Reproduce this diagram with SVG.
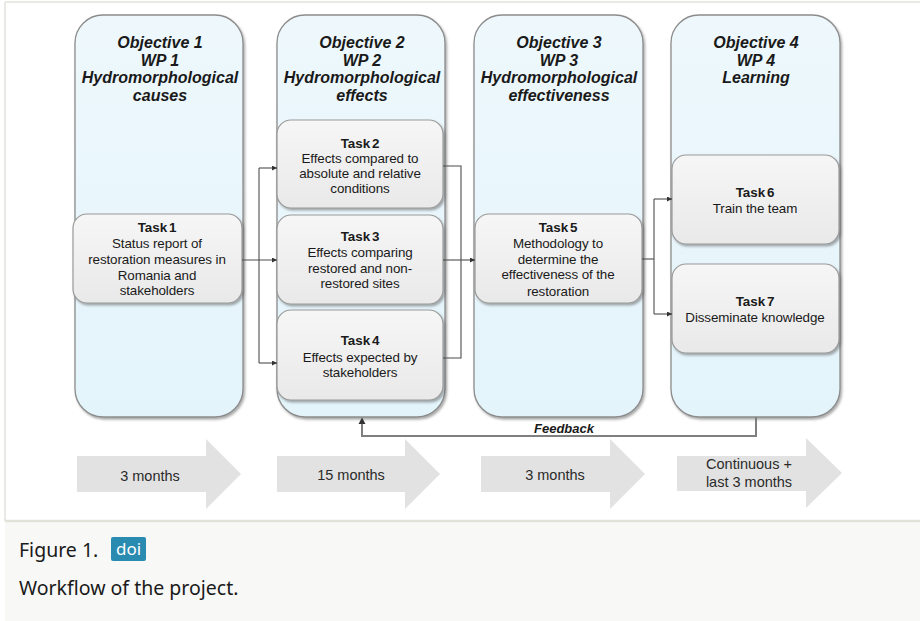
<svg xmlns="http://www.w3.org/2000/svg" width="920" height="621" viewBox="0 0 920 621">
  <style>
    .hdr { font-family: "Liberation Sans", Arial, sans-serif; font-size: 16px; font-weight: bold; font-style: italic; fill: #1a1a1a; text-anchor: middle; }
    .tt { font-family: "Liberation Sans", Arial, sans-serif; font-size: 13.4px; font-weight: bold; fill: #1a1a1a; text-anchor: middle; word-spacing: -2px; }
    .tb { font-family: "Liberation Sans", Arial, sans-serif; font-size: 13.4px; fill: #1a1a1a; text-anchor: middle; letter-spacing: -0.1px; }
    .col { fill: url(#colFill); stroke: #8c8c8c; stroke-width: 1.3; filter: url(#shadow); }
    .task { fill: url(#taskFill); stroke: #9a9a9a; stroke-width: 1.2; filter: url(#shadow); }
    .conn { fill: none; stroke: #4d4d4d; stroke-width: 1.1; }
    .fb { fill: none; stroke: #7f7f7f; stroke-width: 2; }
    .dur { fill: #e2e2e2; }
    .durt { font-family: "Liberation Sans", Arial, sans-serif; font-size: 14.5px; fill: #2a2a2a; text-anchor: middle; }
    .cap { font-family: "Noto Sans", "Open Sans", sans-serif; font-size: 19.5px; fill: #1a1a1a; }
  </style>
  <defs>
    <linearGradient id="colFill" x1="0" y1="0" x2="0" y2="1">
      <stop offset="0" stop-color="#eef8fc"/>
      <stop offset="1" stop-color="#e3f4fb"/>
    </linearGradient>
    <linearGradient id="taskFill" x1="0" y1="0" x2="0" y2="1">
      <stop offset="0" stop-color="#f6f6f6"/>
      <stop offset="1" stop-color="#e9e9e9"/>
    </linearGradient>
    <filter id="shadow" x="-10%" y="-10%" width="125%" height="125%">
      <feDropShadow dx="1.5" dy="2" stdDeviation="1.3" flood-color="#444" flood-opacity="0.45"/>
    </filter>
    <marker id="arr" viewBox="0 0 10 10" refX="10" refY="5" markerWidth="5" markerHeight="5" markerUnits="userSpaceOnUse" orient="auto">
      <path d="M0,0 L10,5 L0,10 z" fill="#333"/>
    </marker>
  </defs>

  <!-- page frame and caption panel -->
  <rect x="0" y="0" width="920" height="621" fill="#ffffff"/>
  <line x1="5" y1="2" x2="920" y2="2" stroke="#e2e2dc" stroke-width="1.5"/>
  <line x1="5" y1="2" x2="5" y2="521" stroke="#e2e2dc" stroke-width="1.5"/>
  <rect x="5" y="521" width="915" height="100" fill="#f8f8f6"/>
  <line x1="5" y1="521" x2="920" y2="521" stroke="#e2e2da" stroke-width="2.5"/>

  <!-- objective columns -->
  <g id="obj1">
    <rect class="col" x="75" y="15" width="168" height="402" rx="28" ry="28"/>
    <text class="hdr" x="160" y="48">Objective 1</text>
    <text class="hdr" x="160" y="65.5">WP 1</text>
    <text class="hdr" x="160" y="83">Hydromorphological</text>
    <text class="hdr" x="160" y="100.5">causes</text>
  </g>
  <g id="obj2">
    <rect class="col" x="277" y="15" width="168" height="402" rx="28" ry="28"/>
    <text class="hdr" x="362" y="48">Objective 2</text>
    <text class="hdr" x="362" y="65.5">WP 2</text>
    <text class="hdr" x="362" y="83">Hydromorphological</text>
    <text class="hdr" x="362" y="100.5">effects</text>
  </g>
  <g id="obj3">
    <rect class="col" x="474" y="15" width="169" height="402" rx="28" ry="28"/>
    <text class="hdr" x="559" y="48">Objective 3</text>
    <text class="hdr" x="559" y="65.5">WP 3</text>
    <text class="hdr" x="559" y="83">Hydromorphological</text>
    <text class="hdr" x="559" y="100.5">effectiveness</text>
  </g>
  <g id="obj4">
    <rect class="col" x="671" y="15" width="169" height="402" rx="28" ry="28"/>
    <text class="hdr" x="756" y="48">Objective 4</text>
    <text class="hdr" x="756" y="65.5">WP 4</text>
    <text class="hdr" x="756" y="83">Learning</text>
  </g>

  <!-- tasks -->
  <g id="task1">
    <rect class="task" x="73" y="214" width="169" height="89" rx="14" ry="14"/>
    <text class="tt" x="157" y="232">Task 1</text>
    <text class="tb" x="157" y="248">Status report of</text>
    <text class="tb" x="157" y="264">restoration measures in</text>
    <text class="tb" x="157" y="280">Romania and</text>
    <text class="tb" x="157" y="295">stakeholders</text>
  </g>
  <g id="task2">
    <rect class="task" x="277" y="120" width="166" height="88" rx="14" ry="14"/>
    <text class="tt" x="360" y="148">Task 2</text>
    <text class="tb" x="360" y="163">Effects compared to</text>
    <text class="tb" x="360" y="178">absolute and  relative</text>
    <text class="tb" x="360" y="193">conditions</text>
  </g>
  <g id="task3">
    <rect class="task" x="277" y="215" width="166" height="89" rx="14" ry="14"/>
    <text class="tt" x="360" y="241">Task 3</text>
    <text class="tb" x="360" y="257">Effects comparing</text>
    <text class="tb" x="360" y="273">restored and non-</text>
    <text class="tb" x="360" y="288">restored sites</text>
  </g>
  <g id="task4">
    <rect class="task" x="277" y="310" width="166" height="90" rx="14" ry="14"/>
    <text class="tt" x="360" y="345">Task 4</text>
    <text class="tb" x="360" y="362">Effects expected by</text>
    <text class="tb" x="360" y="377">stakeholders</text>
  </g>
  <g id="task5">
    <rect class="task" x="475" y="214" width="167" height="89" rx="14" ry="14"/>
    <text class="tt" x="558" y="232">Task 5</text>
    <text class="tb" x="558" y="248">Methodology to</text>
    <text class="tb" x="558" y="264">determine the</text>
    <text class="tb" x="558" y="279">effectiveness of the</text>
    <text class="tb" x="558" y="296">restoration</text>
  </g>
  <g id="task6">
    <rect class="task" x="672" y="155" width="167" height="89" rx="14" ry="14"/>
    <text class="tt" x="755" y="197">Task 6</text>
    <text class="tb" x="755" y="213">Train the team</text>
  </g>
  <g id="task7">
    <rect class="task" x="672" y="264" width="167" height="89" rx="14" ry="14"/>
    <text class="tt" x="755" y="306">Task 7</text>
    <text class="tb" x="755" y="322">Disseminate knowledge</text>
  </g>

  <!-- connectors -->
  <g id="connectors">
    <path class="conn" d="M242,260 H277" marker-end="url(#arr)"/>
    <path class="conn" d="M259,168 V363"/>
    <path class="conn" d="M259,168 H277" marker-end="url(#arr)"/>
    <path class="conn" d="M259,363 H277" marker-end="url(#arr)"/>
    <path class="conn" d="M443,166 H461 V358 H443"/>
    <path class="conn" d="M443,260 H475" marker-end="url(#arr)"/>
    <path class="conn" d="M642,259 H654"/>
    <path class="conn" d="M654,199 V314"/>
    <path class="conn" d="M654,199 H672" marker-end="url(#arr)"/>
    <path class="conn" d="M654,314 H672" marker-end="url(#arr)"/>
    <path class="fb" d="M756,417 V436 H362 V421"/>
    <path d="M358.5,424 L362,417.5 L365.5,424 z" fill="#333"/>
    <text class="hdr" x="564" y="433" style="font-size:13px">Feedback</text>
  </g>

  <!-- durations -->
  <g id="durations">
    <polygon class="dur" points="77,456 206,456 206,439 241,474 206,509 206,492 77,492"/>
    <text class="durt" x="150" y="481">3 months</text>
    <polygon class="dur" points="277,456 405,456 405,439 440,474 405,509 405,492 277,492"/>
    <text class="durt" x="351" y="480">15 months</text>
    <polygon class="dur" points="481,456 610,456 610,439 645,474 610,509 610,492 481,492"/>
    <text class="durt" x="555" y="480">3 months</text>
    <polygon class="dur" points="677,456 806,456 806,438 842,473 806,508 806,491 677,491"/>
    <text class="durt" x="749" y="469">Continuous  +</text>
    <text class="durt" x="749" y="487">last 3 months</text>
  </g>

  <!-- caption -->
  <g id="caption">
    <text class="cap" x="19" y="557">Figure 1.</text>
    <rect x="111" y="537" width="35" height="24" rx="2" fill="#2a8bb1"/>
    <text x="128.5" y="555" font-family="Noto Sans, Open Sans, sans-serif" font-size="17" fill="#ffffff" text-anchor="middle">doi</text>
    <text class="cap" x="19" y="595">Workflow of the project.</text>
  </g>
</svg>
